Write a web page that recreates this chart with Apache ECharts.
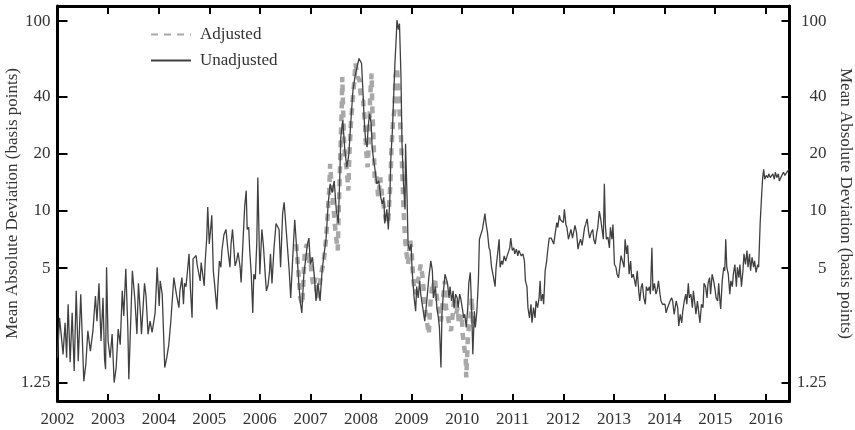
<!DOCTYPE html>
<html>
<head>
<meta charset="utf-8">
<script src="https://cdn.jsdelivr.net/npm/echarts@6/dist/echarts.min.js"></script>
<style>
html, body { margin: 0; padding: 0; background: #fff; }
#chart { width: 855px; height: 430px; }
</style>
</head>
<body>
<div id="chart"></div>
<script>
// tick labels
var yearTicks = [2002, 2003, 2004, 2005, 2006, 2007, 2008, 2009, 2010, 2011, 2012, 2013, 2014, 2015, 2016];
var bpTicks = [1.25, 5, 10, 20, 40, 100];

// unadjusted series : date (decimal year) / mean absolute deviation (bp)
var unadjDates = [
	2002.00,2002.04,2002.08,2002.11,2002.15,2002.18,2002.21,2002.25,2002.29,2002.33,2002.37,2002.41,2002.46,2002.52,2002.56,2002.60,2002.65,2002.70,2002.75,2002.78,
	2002.82,2002.86,2002.90,2002.93,2002.95,2002.97,2003.00,2003.04,2003.08,2003.12,2003.16,2003.20,2003.24,2003.28,2003.31,2003.35,2003.39,2003.41,2003.48,2003.53,
	2003.57,2003.60,2003.64,2003.66,2003.72,2003.75,2003.79,2003.83,2003.87,2003.93,2003.97,2004.01,2004.03,2004.07,2004.12,2004.16,2004.20,2004.24,2004.30,2004.35,
	2004.40,2004.42,2004.46,2004.49,2004.51,2004.54,2004.57,2004.60,2004.63,2004.66,2004.68,2004.71,2004.74,2004.76,2004.79,2004.82,2004.84,2004.87,2004.90,2004.92,
	2004.95,2004.97,2005.00,2005.03,2005.05,2005.08,2005.11,2005.15,2005.17,2005.20,2005.23,2005.25,2005.29,2005.33,2005.37,2005.41,2005.43,2005.46,2005.49,2005.51,
	2005.54,2005.57,2005.61,2005.63,2005.67,2005.70,2005.73,2005.75,2005.78,2005.80,2005.83,2005.86,2005.88,2005.91,2005.94,2005.96,2006.00,2006.04,2006.07,2006.11,
	2006.13,2006.16,2006.19,2006.21,2006.24,2006.28,2006.32,2006.34,2006.38,2006.41,2006.45,2006.48,2006.52,2006.54,2006.58,2006.61,2006.63,2006.67,2006.69,2006.73,
	2006.77,2006.80,2006.83,2006.87,2006.91,2006.94,2006.97,2007.00,2007.04,2007.08,2007.11,2007.15,2007.19,2007.23,2007.27,2007.31,2007.35,2007.39,2007.43,2007.47,
	2007.51,2007.55,2007.58,2007.60,2007.64,2007.68,2007.72,2007.76,2007.80,2007.84,2007.88,2007.92,2007.96,2007.98,2008.01,2008.04,2008.06,2008.09,2008.12,2008.14,
	2008.17,2008.20,2008.22,2008.25,2008.27,2008.31,2008.35,2008.39,2008.42,2008.45,2008.47,2008.51,2008.54,2008.57,2008.59,2008.62,2008.64,2008.67,2008.70,2008.71,
	2008.74,2008.76,2008.79,2008.81,2008.84,2008.87,2008.88,2008.91,2008.93,2008.96,2008.99,2009.01,2009.05,2009.08,2009.10,2009.13,2009.16,2009.18,2009.22,2009.26,
	2009.30,2009.34,2009.38,2009.41,2009.43,2009.47,2009.50,2009.53,2009.55,2009.58,2009.60,2009.63,2009.66,2009.68,2009.71,2009.74,2009.76,2009.79,2009.82,2009.84,
	2009.87,2009.90,2009.92,2009.95,2009.97,2010.00,2010.03,2010.05,2010.08,2010.11,2010.13,2010.16,2010.19,2010.21,2010.24,2010.26,2010.29,2010.32,2010.34,2010.37,
	2010.40,2010.42,2010.45,2010.47,2010.50,2010.53,2010.55,2010.58,2010.62,2010.65,2010.67,2010.70,2010.73,2010.75,2010.78,2010.80,2010.83,2010.86,2010.88,2010.91,
	2010.94,2010.96,2010.99,2011.02,2011.04,2011.07,2011.10,2011.12,2011.15,2011.17,2011.20,2011.23,2011.25,2011.28,2011.30,2011.33,2011.36,2011.38,2011.41,2011.44,
	2011.46,2011.49,2011.52,2011.54,2011.56,2011.59,2011.61,2011.64,2011.67,2011.69,2011.72,2011.76,2011.79,2011.81,2011.84,2011.87,2011.89,2011.92,2011.94,2011.97,
	2012.00,2012.02,2012.05,2012.07,2012.10,2012.13,2012.15,2012.18,2012.21,2012.23,2012.26,2012.29,2012.31,2012.34,2012.37,2012.39,2012.42,2012.44,2012.47,2012.50,
	2012.52,2012.55,2012.58,2012.60,2012.63,2012.66,2012.68,2012.71,2012.74,2012.76,2012.79,2012.81,2012.83,2012.85,2012.88,2012.91,2012.93,2012.96,2012.98,2013.01,
	2013.04,2013.06,2013.09,2013.12,2013.14,2013.17,2013.20,2013.22,2013.25,2013.27,2013.30,2013.33,2013.35,2013.38,2013.41,2013.43,2013.46,2013.49,2013.51,2013.54,
	2013.56,2013.59,2013.62,2013.64,2013.67,2013.70,2013.72,2013.75,2013.77,2013.80,2013.83,2013.85,2013.88,2013.91,2013.93,2013.96,2013.99,2014.01,2014.03,2014.06,
	2014.09,2014.11,2014.14,2014.16,2014.19,2014.23,2014.26,2014.28,2014.31,2014.34,2014.36,2014.39,2014.42,2014.44,2014.47,2014.49,2014.52,2014.55,2014.57,2014.60,
	2014.62,2014.65,2014.68,2014.70,2014.73,2014.76,2014.78,2014.81,2014.84,2014.86,2014.89,2014.91,2014.94,2014.97,2014.99,2015.02,2015.05,2015.07,2015.10,2015.11,
	2015.14,2015.17,2015.19,2015.21,2015.23,2015.26,2015.29,2015.31,2015.34,2015.36,2015.39,2015.42,2015.44,2015.47,2015.49,2015.52,2015.55,2015.57,2015.60,2015.63,
	2015.65,2015.68,2015.70,2015.73,2015.76,2015.78,2015.81,2015.84,2015.86,2015.89,2015.92,2015.94,2015.96,2015.98,2016.01,2016.04,2016.06,2016.09,2016.11,2016.14,
	2016.17,2016.19,2016.22,2016.25,2016.27,2016.30,2016.32,2016.35,2016.38,2016.40,2016.43,2016.46
];
var unadjBps = [
	1.69,2.74,2.15,1.76,2.58,1.69,3.23,1.60,2.91,1.44,3.80,1.62,3.65,1.27,1.56,2.34,1.83,2.34,3.57,2.63,
	4.16,2.07,3.49,1.66,1.47,5.06,2.07,1.69,2.25,1.25,1.50,2.39,1.98,3.80,2.80,4.97,2.44,1.30,4.85,3.41,
	2.25,4.16,2.86,2.25,4.16,3.57,2.25,2.63,2.30,2.91,5.06,3.16,4.29,3.65,1.50,1.69,1.98,2.63,4.46,3.65,
	3.10,3.80,4.46,3.23,4.16,4.00,4.85,5.95,3.80,2.74,5.60,5.70,5.83,5.23,5.14,4.29,5.35,5.46,4.04,5.46,
	7.2,10.5,6.7,8.2,9.5,4.85,4.00,3.03,4.00,5.46,5.06,6.2,7.5,8.0,6.2,5.06,6.7,8.0,6.2,5.14,
	5.46,6.05,5.06,4.21,7.2,10.5,12.8,8.0,8.2,6.2,4.65,2.91,4.65,4.37,6.85,15.0,4.65,8.0,6.6,4.46,
	3.80,4.04,4.75,5.95,4.16,6.4,8.6,8.4,8.0,5.06,9.7,11.1,8.0,8.0,4.85,3.49,3.41,7.2,9.0,6.2,
	4.16,3.3,2.91,4.65,5.7,6.7,7.2,5.23,5.7,4.46,3.36,4.16,3.36,4.85,5.95,7.2,10.9,13.9,12.5,14.4,
	10.2,8.6,15.0,24.5,30,20.8,17.0,20.0,30,43,50.8,57,63.5,65,60,41.5,31.2,23.5,21.7,27.6,
	32.5,28.8,21.7,18.4,17.0,13.9,14.4,11.8,10.9,11.8,8.6,10.2,8.0,11.8,19.2,26.5,36.7,60,86,101,
	90,97,50.8,22.6,13.9,10.2,22.6,11.8,6.7,6.2,6.7,4.85,3.49,2.97,4.0,3.49,4.29,3.65,3.10,2.63,
	3.36,4.46,5.46,4.85,3.49,4.0,3.10,2.74,2.44,1.50,2.86,3.80,4.65,4.75,4.16,3.49,4.0,3.36,3.80,3.10,
	3.65,3.49,3.10,3.65,3.49,3.10,2.74,2.86,2.44,3.10,4.16,4.75,2.86,1.76,2.97,2.44,2.97,4.29,7.1,7.2,
	8.0,8.1,9.7,8.6,7.7,6.4,6.2,5.06,4.46,4.0,5.06,5.95,7.1,5.06,5.46,5.23,5.8,5.46,5.7,5.8,
	6.4,7.2,6.2,6.4,5.95,6.3,5.8,6.2,5.95,5.8,5.95,5.46,4.29,4.0,3.10,2.74,3.23,2.58,3.10,2.74,
	3.36,3.10,3.49,4.29,3.36,3.65,3.23,4.85,5.46,6.2,7.2,7.2,7.1,6.7,7.7,8.7,8.2,9.5,9.0,9.1,
	8.7,10.2,8.5,8.2,7.1,7.2,8.0,7.2,7.1,8.4,7.7,6.3,6.7,7.1,6.6,7.2,8.2,8.5,9.1,7.7,
	7.2,7.7,8.0,7.1,6.7,7.7,8.2,10.0,9.0,8.2,7.1,13.9,8.5,7.1,7.3,6.4,8.2,7.1,8.5,5.23,
	5.06,4.65,4.46,5.23,5.83,5.83,5.06,7.1,5.95,6.6,4.65,5.46,4.46,4.65,4.29,4.0,4.85,3.80,3.36,4.0,
	4.16,3.49,3.23,4.0,3.80,4.0,3.65,6.4,3.80,4.16,3.65,3.80,4.29,3.65,3.36,3.23,3.23,3.23,2.91,3.10,
	3.05,3.36,3.49,3.36,2.86,3.36,3.10,2.48,2.86,2.58,2.97,3.36,3.65,3.23,4.16,3.49,3.65,3.10,3.80,3.23,
	2.86,3.36,2.86,2.58,3.23,3.10,4.16,4.0,3.49,4.16,4.46,3.65,4.65,4.29,4.0,3.49,3.36,4.16,3.23,3.05,
	4.29,5.06,4.85,7.1,5.06,4.65,3.65,4.29,4.0,4.65,5.23,4.0,5.06,4.46,5.23,4.0,4.85,5.95,5.23,6.2,
	5.06,5.95,4.85,5.7,5.06,5.46,4.75,5.23,5.06,8.6,12.3,15.0,16.6,14.7,15.4,15.0,15.7,15.0,15.1,15.7,
	14.7,16.0,15.0,15.7,14.4,15.0,14.7,16.0,15.4,15.7,16.2,16.5
];

// adjusted series (2006.7 - 2010.25)
var adjDates = [
	2006.72,2006.76,2006.80,2006.84,2006.87,2006.89,2006.93,2006.96,2007.00,2007.02,2007.06,2007.10,2007.13,2007.17,2007.21,2007.25,2007.29,2007.33,2007.37,2007.39,
	2007.42,2007.46,2007.48,2007.51,2007.54,2007.56,2007.59,2007.62,2007.63,2007.66,2007.68,2007.72,2007.75,2007.77,2007.80,2007.84,2007.87,2007.89,2007.93,2007.97,
	2008.00,2008.04,2008.08,2008.10,2008.13,2008.16,2008.18,2008.21,2008.22,2008.25,2008.27,2008.30,2008.34,2008.38,2008.42,2008.46,2008.50,2008.54,2008.58,2008.60,
	2008.63,2008.66,2008.68,2008.71,2008.74,2008.76,2008.79,2008.81,2008.84,2008.87,2008.89,2008.93,2008.97,2009.00,2009.03,2009.05,2009.08,2009.10,2009.14,2009.18,
	2009.22,2009.25,2009.28,2009.32,2009.34,2009.37,2009.41,2009.43,2009.46,2009.49,2009.51,2009.55,2009.58,2009.62,2009.66,2009.68,2009.71,2009.75,2009.78,2009.80,
	2009.83,2009.86,2009.88,2009.91,2009.93,2009.96,2009.99,2010.01,2010.04,2010.07,2010.08,2010.11,2010.13,2010.16,2010.19,2010.21,2010.24
];
var adjBps = [
	6.7,4.85,3.49,3.23,4.85,6.2,6.7,5.23,5.7,4.65,4.0,4.46,3.49,3.8,4.65,5.23,6.2,8.6,12.8,17.7,
	13.3,10.2,8.6,7.2,6.2,10.2,19.2,36.7,50.8,24.5,20.0,16.3,12.8,20.0,28.8,40,49,60,50.8,49,
	38.2,38.2,28.8,20.8,17.0,24.5,40,53,36.7,22.6,15.0,15.7,11.8,15.0,11.8,10.2,8.6,9.0,13.9,20.8,
	28.8,34,50.8,57,45,34,24.5,17.7,10.2,7.2,6.2,5.23,7.1,6.2,4.46,4.0,3.65,4.16,4.46,5.23,
	4.46,3.5,2.86,2.44,2.25,3.23,4.16,4.0,4.46,3.65,3.36,2.86,2.63,3.49,4.29,3.10,2.86,2.44,2.34,2.63,
	3.23,3.49,2.86,3.10,2.63,2.54,2.86,2.25,1.92,1.69,1.33,2.07,2.44,2.63,3.49,2.63,2.44
];

function pairs(xs, ys) {
	var out = [];
	for (var i = 0; i < xs.length; i++) {
		out.push([xs[i], ys[i]]);
	}
	return out;
}

var font = '"Liberation Serif", "DejaVu Serif", serif';
var textColor = '#333';
var axisName = 'Mean Absolute Deviation (basis points)';

var myChart = echarts.init(document.getElementById('chart'));
var option = {
	animation: false,
	backgroundColor: '#fff',
	grid: { left: 57.5, right: 65.5, top: 6, bottom: 29, containLabel: false, outerBoundsMode: 'none' },
	legend: {
		data: ['Adjusted', 'Unadjusted'],
		orient: 'vertical',
		left: 150,
		top: 26,
		padding: 0,
		itemWidth: 40,
		itemHeight: 14,
		itemGap: 9,
		itemStyle: { opacity: 0 },
		textStyle: { fontFamily: font, fontSize: 17, color: textColor, padding: [0, 0, 0, 4] }
	},
	xAxis: [{
		type: 'value', position: 'bottom', min: 2002, max: 2016.47,
		axisLine: { show: true, onZero: false, lineStyle: { color: '#000', width: 3 } },
		axisTick: { show: true, inside: true, length: 7, customValues: yearTicks, lineStyle: { color: '#000', width: 2 } },
		axisLabel: {
			customValues: yearTicks, margin: 10, fontFamily: font, fontSize: 17, color: textColor,
			formatter: function (v) { return String(Math.round(v)); }
		},
		splitLine: { show: false }
	}, {
		type: 'value', position: 'top', min: 2002, max: 2016.47,
		axisLine: { show: true, onZero: false, lineStyle: { color: '#000', width: 3 } },
		axisTick: { show: true, inside: true, length: 8, customValues: yearTicks, lineStyle: { color: '#000', width: 2 } },
		axisLabel: { show: false },
		splitLine: { show: false }
	}],
	yAxis: [{
		type: 'log', logBase: 10, position: 'left', min: 1, max: 120,
		axisLine: { show: true, onZero: false, lineStyle: { color: '#000', width: 3 } },
		axisTick: { show: true, inside: true, length: 10, customValues: bpTicks, lineStyle: { color: '#000', width: 2 } },
		axisLabel: { customValues: bpTicks, margin: 7, fontFamily: font, fontSize: 17, color: textColor },
		splitLine: { show: false },
		minorTick: { show: false },
		name: axisName, nameLocation: 'middle', nameGap: 36, nameMoveOverlap: false,
		nameTextStyle: { fontFamily: font, fontSize: 17, color: textColor }
	}, {
		type: 'log', logBase: 10, position: 'right', min: 1, max: 120,
		axisLine: { show: true, onZero: false, lineStyle: { color: '#000', width: 3 } },
		axisTick: { show: true, inside: true, length: 8, customValues: bpTicks, lineStyle: { color: '#000', width: 2 } },
		axisLabel: { customValues: bpTicks, margin: 37, align: 'right', fontFamily: font, fontSize: 17, color: textColor },
		splitLine: { show: false },
		name: axisName, nameLocation: 'middle', nameGap: 47, nameRotate: -90, nameMoveOverlap: false,
		nameTextStyle: { fontFamily: font, fontSize: 17, color: textColor }
	}],
	series: [{
		name: 'Adjusted',
		type: 'line',
		symbol: 'none',
		data: pairs(adjDates, adjBps),
		lineStyle: { color: '#a8a8a8', width: 4.5, type: [7, 6] },
		itemStyle: { color: '#a8a8a8' },
		z: 2
	}, {
		name: 'Unadjusted',
		type: 'line',
		symbol: 'none',
		data: pairs(unadjDates, unadjBps),
		lineStyle: { color: '#404040', width: 1.3 },
		itemStyle: { color: '#404040' },
		z: 3
	}]
};
myChart.setOption(option);
</script>
</body>
</html>
